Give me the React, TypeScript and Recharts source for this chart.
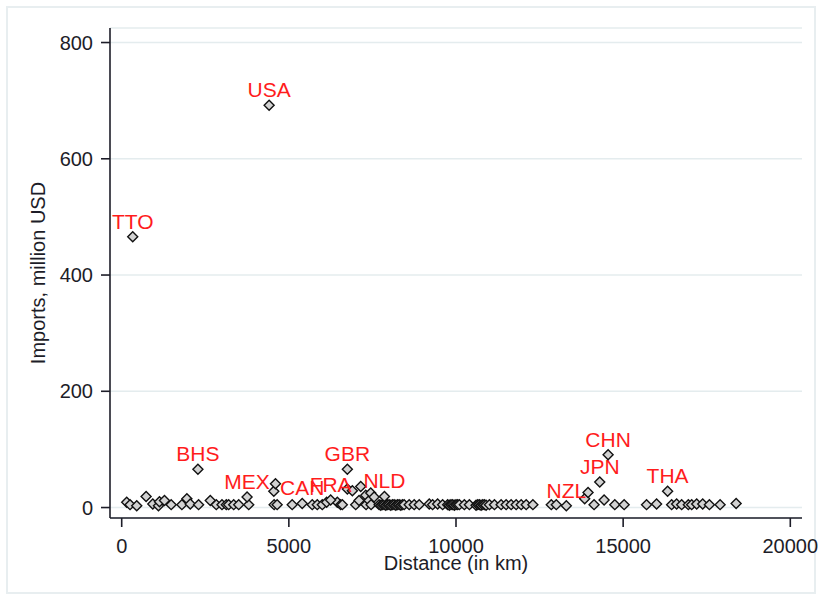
import { CartesianGrid, Label, Scatter, ScatterChart, XAxis, YAxis } from 'recharts';

// labelled countries
const labelCodes = ['TTO', 'BHS', 'MEX', 'USA', 'CAN', 'FRA', 'GBR', 'NLD', 'NZL', 'JPN', 'CHN', 'THA'];
const labelDistance = [330, 2280, 3750, 4410, 5400, 6250, 6750, 7860, 13300, 14300, 14550, 16330];
const labelImports = [466, 66, 18, 692, 7, 13, 66, 19, 3, 44, 91, 28];

// all other partners
const otherDistance = [
  150, 250, 450, 730, 930, 1100, 1130, 1280, 1480, 1800,
  1950, 2050, 2300, 2650, 2830, 3000, 3130, 3200, 3350, 3500,
  3800, 4550, 4560, 4600, 4650, 5100, 5700, 5850, 6000,
  6130, 6450, 6550, 6600, 6750, 6900, 7000, 7100, 7150, 7300,
  7310, 7400, 7450, 7460, 7550, 7700, 7750, 7800, 7850, 7900,
  7950, 8000, 8050, 8100, 8150, 8200, 8250, 8300, 8350, 8400,
  8450, 8600, 8750, 8900, 9200, 9300, 9450, 9600, 9750, 9800,
  9850, 9900, 9950, 10000, 10050, 10100, 10250, 10400, 10600, 10650,
  10700, 10750, 10800, 10850, 10900, 11000, 11150, 11350, 11500, 11650,
  11800, 11950, 12100, 12300, 12850, 13000, 13850, 13950, 14130, 14430,
  14750, 15030, 15700, 16000, 16450, 16600, 16750, 16950, 17050, 17200,
  17380, 17580, 17900, 18380,
];
const otherImports = [
  9, 5, 3, 19, 6, 3, 10, 12, 5, 5,
  15, 6, 5, 12, 5, 5, 5, 5, 5, 5,
  5, 28, 5, 41, 5, 5, 5, 5, 5,
  9, 9, 5, 5, 32, 29, 5, 12, 36, 21,
  5, 12, 25, 5, 18, 5, 4, 5, 5, 4,
  5, 5, 4, 5, 5, 4, 5, 5, 4, 5,
  5, 5, 5, 5, 6, 5, 6, 5, 5, 4,
  5, 5, 4, 5, 5, 5, 5, 5, 4, 5,
  5, 4, 5, 5, 4, 5, 5, 5, 5, 5,
  5, 5, 5, 5, 5, 5, 15, 26, 5, 13,
  5, 5, 5, 6, 5, 6, 5, 5, 5, 6,
  6, 5, 5, 7,
];

const xTicks = [0, 5000, 10000, 15000, 20000];
const yTicks = [0, 200, 400, 600, 800];

const labelled = labelCodes.map((code, i) => ({ code, dist: labelDistance[i], imp: labelImports[i] }));
const others = otherDistance.map((d, i) => ({ dist: d, imp: otherImports[i] }));

const font = '"Liberation Sans", Arial, sans-serif';
const ink = '#1d1d28';

function Diamond(props: any) {
  const { cx, cy } = props;
  if (cx == null || cy == null) return null;
  const r = 5;
  return (
    <polygon
      points={`${cx},${cy - r} ${cx + r},${cy} ${cx},${cy + r} ${cx - r},${cy}`}
      fill="#d2d2d2"
      stroke="#111"
      strokeWidth={1.4}
    />
  );
}

function LabelledDiamond(props: any) {
  const { cx, cy, payload } = props;
  if (cx == null || cy == null) return null;
  return (
    <g>
      <Diamond cx={cx} cy={cy} />
      <text x={cx} y={cy - 8} textAnchor="middle" fontFamily={font} fontSize={21} fill="#ff1c1c">
        {payload.code}
      </text>
    </g>
  );
}

export default function App() {
  return (
    <div style={{ position: 'absolute', left: 0, top: 0, width: 820, height: 596, background: '#fff' }}>
      <div
        style={{
          position: 'absolute',
          left: 6,
          top: 6,
          width: 806,
          height: 584,
          border: '2px solid #e8eef0',
        }}
      />
      <div style={{ position: 'absolute', left: 0, top: 0 }}>
        <ScatterChart width={820} height={596} margin={{ top: 28, right: 18, left: 0, bottom: 0 }}>
          <CartesianGrid horizontal vertical={false} stroke="#e4ecee" strokeWidth={1.5} />
          <XAxis
            type="number"
            dataKey="dist"
            domain={[-350, 20350]}
            ticks={xTicks}
            allowDataOverflow
            height={78}
            tickSize={9}
            tickMargin={12}
            axisLine={{ stroke: ink, strokeWidth: 1.6 }}
            tickLine={{ stroke: ink, strokeWidth: 1.6 }}
            tick={{ fontFamily: font, fontSize: 20, fill: ink }}
          >
            <Label
              value="Distance (in km)"
              position="insideBottom"
              offset={26}
              style={{ fontFamily: font, fontSize: 20, fill: ink }}
            />
          </XAxis>
          <YAxis
            type="number"
            dataKey="imp"
            domain={[-18, 825]}
            ticks={yTicks}
            allowDataOverflow
            width={110}
            tickSize={9}
            tickMargin={8}
            axisLine={{ stroke: ink, strokeWidth: 1.6 }}
            tickLine={{ stroke: ink, strokeWidth: 1.6 }}
            tick={{ fontFamily: font, fontSize: 20, fill: ink }}
          >
            <Label
              content={(p: any) => {
                const vb = p.viewBox || { x: 0, y: 28, height: 490 };
                const x = 45;
                const y = vb.y + vb.height / 2;
                return (
                  <text
                    x={x}
                    y={y}
                    transform={`rotate(-90 ${x} ${y})`}
                    textAnchor="middle"
                    fontFamily={font}
                    fontSize={20}
                    fill={ink}
                  >
                    Imports, million USD
                  </text>
                );
              }}
            />
          </YAxis>
          <Scatter data={others} shape={Diamond} isAnimationActive={false} />
          <Scatter data={labelled} shape={LabelledDiamond} isAnimationActive={false} />
        </ScatterChart>
      </div>
    </div>
  );
}
